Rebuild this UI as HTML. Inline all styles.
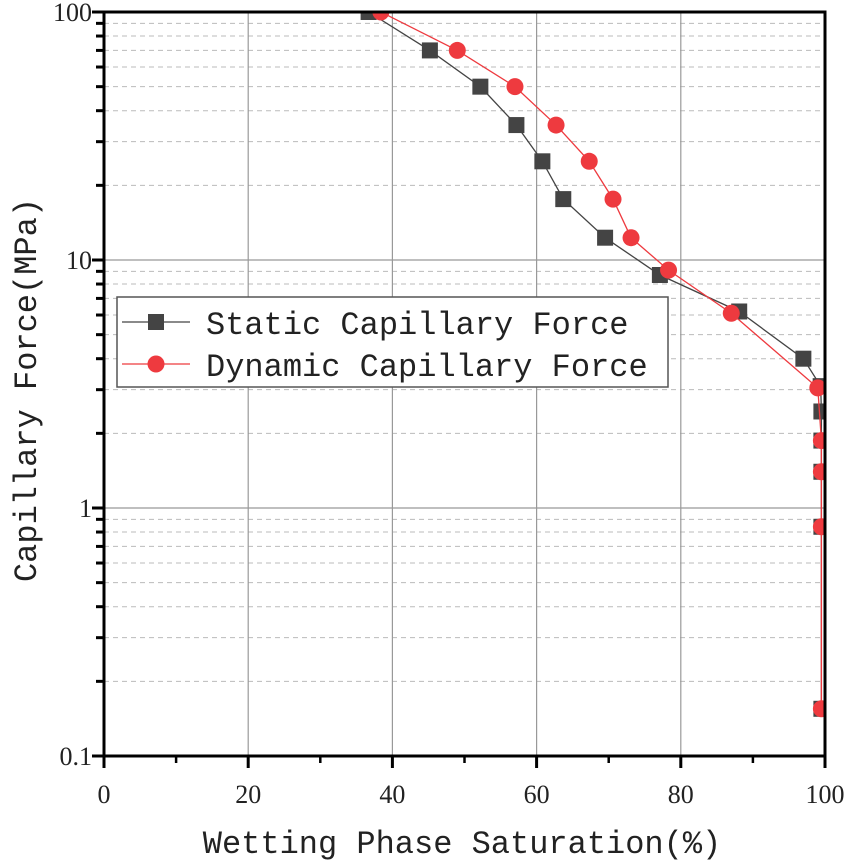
<!DOCTYPE html>
<html><head><meta charset="utf-8"><style>
body{margin:0;background:#fff}
svg{display:block}
.tk{font-family:"Liberation Serif",serif;font-size:26px;fill:#222}
.tt{font-family:"Liberation Mono",monospace;font-size:32px;fill:#222}
</style></head><body>
<svg id="chart" width="854" height="867"><defs><clipPath id="pc"><rect x="104" y="12" width="721" height="744"/></clipPath></defs></svg>
<script>
const xTicks=[0,20,40,60,80,100];
const yTicks=[0.1,1,10,100];
const yTickLabels=["0.1","1","10","100"];
const staticX=[36.7,45.2,52.2,57.2,60.8,63.7,69.5,77.1,88.1,97,99.4,99.5,99.5,99.5,99.5,99.5];
const staticY=[100,70,50,35,25,17.6,12.3,8.7,6.2,4.0,3.1,2.45,1.87,1.4,0.84,0.155];
const dynX=[38.4,49,57,62.7,67.3,70.6,73.1,78.3,87,99,99.5,99.5,99.5,99.5];
const dynY=[100,70,50,35,25,17.6,12.3,9.1,6.1,3.05,1.87,1.4,0.84,0.155];
const L=104,R=825,T=12,B=756;
const X=v=>L+(v/100)*(R-L);
const Y=v=>T+(2-Math.log10(v))*(B-T)/3;
const svg=document.getElementById('chart');
const NS='http://www.w3.org/2000/svg';
function mk(tag,a,p){const e=document.createElementNS(NS,tag);for(const k in a)e.setAttribute(k,a[k]);(p||svg).appendChild(e);return e;}
for(let d=-1;d<2;d++)for(let m=2;m<=9;m++){const y=Y(m*Math.pow(10,d));
 const g=mk('line',{x1:L,x2:R,y1:y,y2:y,stroke:'#bbb','stroke-width':1,'stroke-dasharray':'5,4'});
 
 const t=mk('line',{x1:L-8,x2:L,y1:y,y2:y,stroke:'#000','stroke-width':3});
 }
yTicks.forEach((v,i)=>{const y=Y(v);
 const g=mk('line',{x1:L,x2:R,y1:y,y2:y,stroke:'#999','stroke-width':1.2});
 
 const t=mk('line',{x1:L-12,x2:L,y1:y,y2:y,stroke:'#000','stroke-width':3});
 
 const tx=mk('text',{x:L-12,y:y+9,'text-anchor':'end',class:'tk'});tx.textContent=yTickLabels[i];
 });
xTicks.forEach(v=>{const x=X(v);
 const g=mk('line',{x1:x,x2:x,y1:T,y2:B,stroke:'#999','stroke-width':1.2});
 
 const t=mk('line',{x1:x,x2:x,y1:B,y2:B+12,stroke:'#000','stroke-width':3});
 
 const tx=mk('text',{x:x,y:B+47,'text-anchor':'middle',class:'tk'});tx.textContent=String(v);
 });
for(let v=10;v<100;v+=20){const t=mk('line',{x1:X(v),x2:X(v),y1:B,y2:B+7,stroke:'#000','stroke-width':2.5});
 }
const plotG=mk('g',{'clip-path':'url(#pc)'});


function series(xs,ys,color,shape,name){
 const pl=mk('polyline',{points:xs.map((x,i)=>X(x)+','+Y(ys[i])).join(' '),fill:'none',stroke:color,'stroke-width':1.3},plotG);
 
 xs.forEach((x,i)=>{let e;
  if(shape==='sq')e=mk('rect',{x:X(x)-8,y:Y(ys[i])-8,width:16,height:16,fill:color},plotG);
  else e=mk('circle',{cx:X(x),cy:Y(ys[i]),r:8.5,fill:color},plotG);
  });
}
series(staticX,staticY,'#444','sq','static-capillary-force');
series(dynX,dynY,'#ee3a3f','ci','dynamic-capillary-force');
const fr=mk('rect',{x:L,y:T,width:R-L,height:B-T,fill:'none',stroke:'#000','stroke-width':3});

const lg=mk('g',{});
mk('rect',{x:117,y:297,width:551,height:90,fill:'#fff',stroke:'#555','stroke-width':1.5},lg);
mk('line',{x1:122,x2:190,y1:322,y2:322,stroke:'#444','stroke-width':1.3},lg);
mk('rect',{x:148,y:314,width:16,height:16,fill:'#444'},lg);
mk('line',{x1:122,x2:190,y1:364,y2:364,stroke:'#ee3a3f','stroke-width':1.3},lg);
mk('circle',{cx:156,cy:364,r:8.5,fill:'#ee3a3f'},lg);
const l1=mk('text',{x:206,y:334,class:'tt'},lg);l1.textContent='Static Capillary Force';

const l2=mk('text',{x:206,y:376,class:'tt'},lg);l2.textContent='Dynamic Capillary Force';

const xt=mk('text',{x:462,y:853,'text-anchor':'middle',class:'tt'});xt.textContent='Wetting Phase Saturation(%)';

const yt=mk('text',{x:0,y:0,'text-anchor':'middle',class:'tt',transform:'translate(36,390) rotate(-90)'});yt.textContent='Capillary Force(MPa)';

</script>
</body></html>
